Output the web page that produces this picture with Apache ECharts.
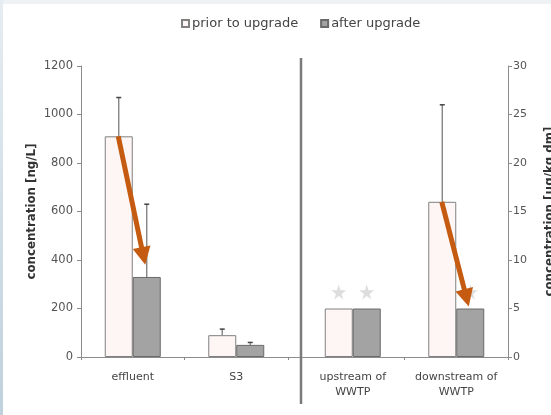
<!DOCTYPE html>
<html><head><meta charset="utf-8">
<script src="https://cdn.jsdelivr.net/npm/echarts@6/dist/echarts.min.js"></script>
<style>
html,body{margin:0;padding:0;width:551px;height:415px;overflow:hidden;background:#eef2f5;}
#frameL{position:absolute;left:0;top:0;width:3px;height:415px;background:linear-gradient(#e6edf2,#bfd1dd);}
#paper{position:absolute;left:3px;top:4px;width:548px;height:411px;background:#fff;}
#chart{position:absolute;left:0;top:0;width:551px;height:415px;}
</style></head>
<body><div id="frameL"></div><div id="paper"></div><div id="chart"></div>
<script>
// ---- data ----
const leftCategories = ['effluent', 'S3'];
const rightCategories = ['upstream of\nWWTP', 'downstream of\nWWTP'];
const seriesNames = ['prior to upgrade', 'after upgrade'];
const leftPrior = [910, 90];          // ng/L
const leftAfter = [330, 50];
const leftPriorErr = [1070, 115];     // top of error bar
const leftAfterErr = [630, 60];
const rightPrior = [5, 16];           // µg/kg dm
const rightAfter = [5, 5];
const rightPriorErr = [null, 26];
const rightAfterErr = [null, null];
const starPrior = [6.7, null];        // star markers (right panel)
const starAfter = [6.7, 6.7];
const leftTicks = [0, 1200, 200];
const rightTicks = [0, 30, 5];
// arrows: [category index, from value (prior), to value (after)]
const leftArrow = [[0, 910, 380]];
const rightArrow = [[1, 16, 5.2]];

const FONT = 'DejaVu Sans';
const BW = 28;
const GRID_TOP = 66, GRID_H = 291;

function errItem(vals, errs) {
  const out = [];
  errs.forEach((e, i) => { if (e != null) out.push([i, e, vals[i]]); });
  return out;
}
function errSeries(xi, yi, data, off) {
  return {
    type: 'custom', xAxisIndex: xi, yAxisIndex: yi, z: 3, silent: true,
    data: data,
    renderItem: function (params, api) {
      const b = api.coord([api.value(0), api.value(2)]);
      const t = api.coord([api.value(0), api.value(1)]);
      const x = b[0] + off;
      const st = { stroke: '#7a7a7a', lineWidth: 1.3 };
      return { type: 'group', children: [
        { type: 'line', shape: { x1: x, y1: b[1], x2: x, y2: t[1] }, style: st },
        { type: 'line', shape: { x1: x - 2.5, y1: t[1], x2: x + 2.5, y2: t[1] }, style: { stroke: '#444', lineWidth: 1.5 } }
      ]};
    }
  };
}
function arrowSeries(xi, yi, data) {
  return {
    type: 'custom', xAxisIndex: xi, yAxisIndex: yi, z: 10, silent: true,
    data: data,
    renderItem: function (params, api) {
      const s = api.coord([api.value(0), api.value(1)]);
      const e = api.coord([api.value(0), api.value(2)]);
      const x1 = s[0] - 14.5, y1 = s[1];
      const x2 = e[0] + 12.5, y2 = e[1];
      const dx = x2 - x1, dy = y2 - y1, L = Math.sqrt(dx*dx + dy*dy);
      const ux = dx / L, uy = dy / L, px = -uy, py = ux;
      const hl = 18, hw = 9;
      const bx = x2 - ux * hl, by = y2 - uy * hl;
      const c = '#c55a11';
      return { type: 'group', children: [
        { type: 'line', shape: { x1: x1, y1: y1, x2: bx + ux * 2, y2: by + uy * 2 }, style: { stroke: c, lineWidth: 5 } },
        { type: 'polygon', shape: { points: [[x2, y2], [bx + px * hw, by + py * hw], [bx - px * hw, by - py * hw]] }, style: { fill: c } }
      ]};
    }
  };
}
const starPath = 'path://M50,0 L61,35 L98,35 L68,57 L79,91 L50,70 L21,91 L32,57 L2,35 L39,35 Z';

const priorStyle = { color: '#fdf6f4', borderColor: '#808080', borderWidth: 1 };
const afterStyle = { color: '#a3a3a3', borderColor: '#6a6a6a', borderWidth: 1 };
const labelStyle = { fontFamily: FONT, fontSize: 11, color: '#555' };
const plain = v => String(v);

const option = {
  backgroundColor: 'transparent',
  animation: false,
  textStyle: { fontFamily: FONT },
  legend: {
    data: seriesNames, top: 12, left: 176, itemWidth: 7, itemHeight: 7, itemGap: 22,
    icon: 'rect',
    textStyle: { fontFamily: FONT, fontSize: 13, color: '#444', padding: [0, 0, 0, -2] }
  },
  grid: [
    { left: 81, top: GRID_TOP, width: 207, height: GRID_H, containLabel: false, outerBoundsMode: 'none' },
    { left: 301, top: GRID_TOP, width: 207, height: GRID_H, containLabel: false, outerBoundsMode: 'none' },
    { left: 81, top: GRID_TOP, width: 427, height: GRID_H, containLabel: false, outerBoundsMode: 'none' }
  ],
  xAxis: [
    { type: 'category', gridIndex: 0, data: leftCategories,
      axisLine: { show: false },
      axisTick: { show: true, length: 3, lineStyle: { color: '#888' }, interval: 0 },
      axisLabel: Object.assign({ margin: 13, lineHeight: 15, interval: 0 }, labelStyle, { color: '#444' }) },
    { type: 'category', gridIndex: 1, data: rightCategories,
      axisLine: { show: false },
      axisTick: { show: true, length: 3, lineStyle: { color: '#888' }, interval: 0 },
      axisLabel: Object.assign({ margin: 13, lineHeight: 15, interval: 0 }, labelStyle, { color: '#444' }) },
    { type: 'category', gridIndex: 2, data: [''],
      axisLine: { show: true, lineStyle: { color: '#8c8c8c', width: 1 } },
      axisTick: { show: false }, axisLabel: { show: false } }
  ],
  yAxis: [
    { type: 'value', gridIndex: 0, min: leftTicks[0], max: leftTicks[1], interval: leftTicks[2],
      splitLine: { show: false },
      axisLine: { show: true, lineStyle: { color: '#8c8c8c' } },
      axisTick: { show: true, length: 4, lineStyle: { color: '#8c8c8c' } },
      axisLabel: Object.assign({ margin: 8, formatter: plain }, labelStyle, { fontSize: 11.5 }),
      name: 'concentration [ng/L]', nameLocation: 'middle', nameRotate: 90, nameGap: 43,
      nameTextStyle: { fontFamily: FONT, fontSize: 11.8, fontWeight: 'bold', color: '#333' } },
    { type: 'value', gridIndex: 1, position: 'right', min: rightTicks[0], max: rightTicks[1], interval: rightTicks[2],
      splitLine: { show: false },
      axisLine: { show: true, lineStyle: { color: '#8c8c8c' } },
      axisTick: { show: true, length: 4, lineStyle: { color: '#8c8c8c' } },
      axisLabel: Object.assign({ margin: 5, formatter: plain }, labelStyle),
      name: 'concentration [µg/kg dm]', nameLocation: 'middle', nameRotate: 90, nameGap: 36,
      nameTextStyle: { fontFamily: FONT, fontSize: 11.8, fontWeight: 'bold', color: '#333' } },
    { type: 'value', gridIndex: 2, show: false, min: 0, max: 1 }
  ],
  series: [
    { name: seriesNames[0], type: 'bar', xAxisIndex: 0, yAxisIndex: 0, data: leftPrior, barWidth: BW, barGap: '0%', itemStyle: priorStyle, z: 2 },
    { name: seriesNames[1], type: 'bar', xAxisIndex: 0, yAxisIndex: 0, data: leftAfter, barWidth: BW, barGap: '0%', itemStyle: afterStyle, z: 2 },
    { name: seriesNames[0], type: 'bar', xAxisIndex: 1, yAxisIndex: 1, data: rightPrior, barWidth: BW, barGap: '0%', itemStyle: priorStyle, z: 2 },
    { name: seriesNames[1], type: 'bar', xAxisIndex: 1, yAxisIndex: 1, data: rightAfter, barWidth: BW, barGap: '0%', itemStyle: afterStyle, z: 2 },
    errSeries(0, 0, errItem(leftPrior, leftPriorErr), -BW / 2),
    errSeries(0, 0, errItem(leftAfter, leftAfterErr), BW / 2),
    errSeries(1, 1, errItem(rightPrior, rightPriorErr), -BW / 2),
    errSeries(1, 1, errItem(rightAfter, rightAfterErr), BW / 2),
    { type: 'scatter', xAxisIndex: 1, yAxisIndex: 1, data: starPrior, symbol: starPath, symbolSize: 15,
      symbolOffset: [-BW / 2, 0], itemStyle: { color: '#d4d4d4' }, silent: true, z: 4 },
    { type: 'scatter', xAxisIndex: 1, yAxisIndex: 1, data: starAfter, symbol: starPath, symbolSize: 15,
      symbolOffset: [BW / 2, 0], itemStyle: { color: '#d4d4d4' }, silent: true, z: 4 },
    arrowSeries(0, 0, leftArrow),
    arrowSeries(1, 1, rightArrow)
  ],
  graphic: [
    { type: 'line', shape: { x1: 301, y1: 58, x2: 301, y2: 404 }, style: { stroke: '#7a7a7a', lineWidth: 2.5 }, z: 20 }
  ]
};
const chart = echarts.init(document.getElementById('chart'), null, { renderer: 'canvas' });
chart.setOption(option);
</script></body></html>
